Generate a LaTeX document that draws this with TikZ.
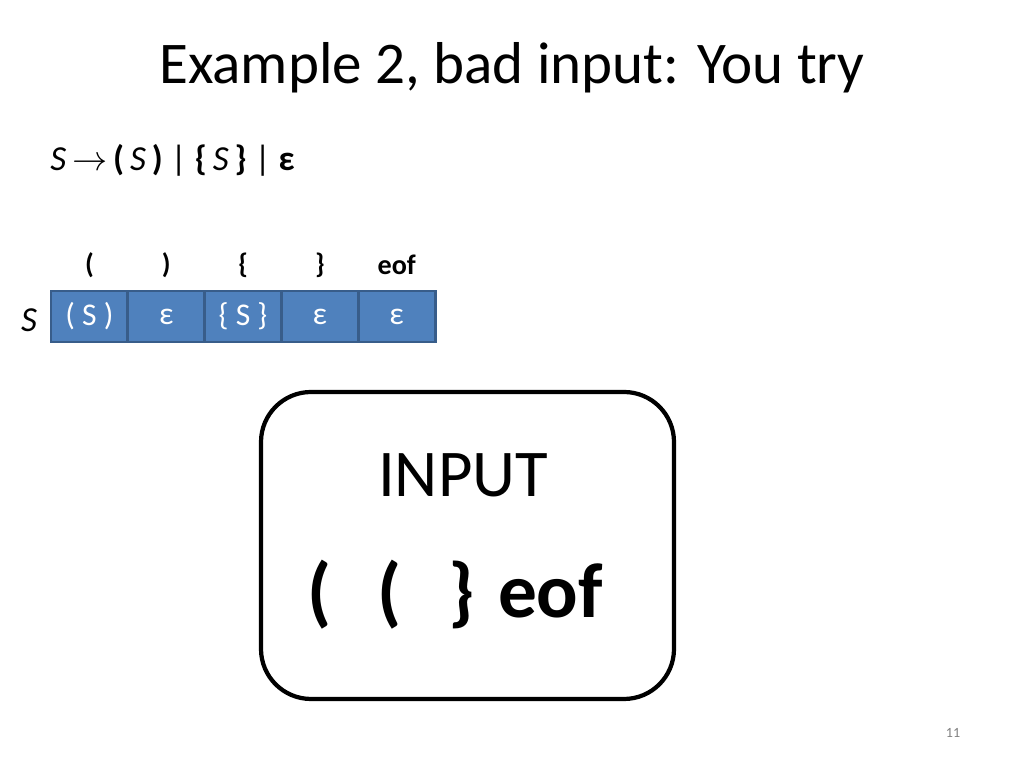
\documentclass[tikz,border=0pt]{standalone}
\usepackage{fontspec}
\setmainfont{Carlito}
\usetikzlibrary{positioning}
\definecolor{cellfill}{HTML}{4F81BD}
\definecolor{celldraw}{HTML}{385D8A}
\tikzstyle{cellnode} = [draw=celldraw, line width=0.8pt, fill=cellfill, text=white, minimum width=0.77cm, minimum height=0.51cm, inner sep=0pt, font=\fontsize{9}{9}\selectfont]
\tikzstyle{headnode} = [font=\fontsize{8}{8}\selectfont\bfseries]
\begin{document}
\begin{tikzpicture}[x=0.01cm, y=-0.01cm]
  \useasboundingbox (0,0) rectangle (1024,768);
  \node (title) at (512,68) {\fontsize{16.8}{17}\selectfont Example 2, bad input: You try};
  \node[anchor=west] (gram) at (38,160) {\fontsize{10}{10}\selectfont \textit{S}\,$\rightarrow$\,\textbf{(}\,\textit{S}\,\textbf{)} | \textbf{\{}\,\textit{S}\,\textbf{\}} | \textbf{ε}};

  \foreach \i/\h/\c in {0/(/( S ),1/)/ε,2/\{/\{ S \},3/\}/ε,4/eof/ε} {
    \node[cellnode] (cell\i) at (89.5+76.8*\i,316.5) {\c};
    \node[headnode] (head\i) at (89.5+76.8*\i,265) {\h};
  }
  \node[left=0pt of cell0, font=\fontsize{10}{10}\selectfont\itshape, yshift=-1pt] (S) {S};

  \draw[line width=1.2pt, rounded corners=0.5cm] (261,392) rectangle (674,699);
  \node (input) at (463,475) {\fontsize{19}{19}\selectfont INPUT};
  \node (tokens) at (455,595) {\fontsize{22}{22}\selectfont\bfseries (\hspace{0.6em}(\hspace{0.6em}\}\hspace{0.3em}eof};
  \node[text=gray] (page) at (953,733) {\fontsize{4}{4}\selectfont 11};
\end{tikzpicture}
\end{document}
